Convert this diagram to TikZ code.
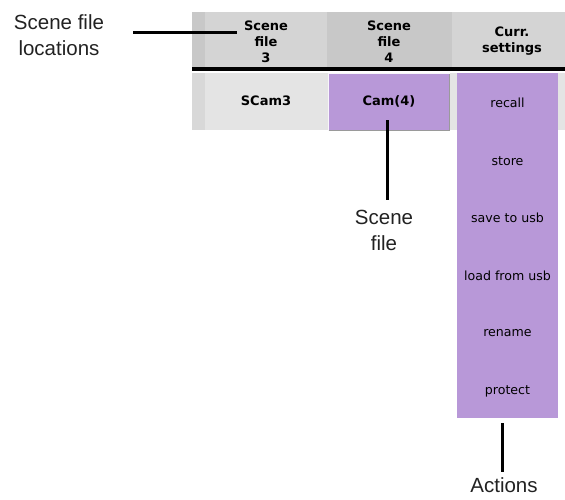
\documentclass[tikz,border=0pt]{standalone}
\usepackage{fontspec}
\setmainfont{Liberation Sans}
\newfontfamily\uifont{DejaVu Sans}
\definecolor{hdrA}{HTML}{D4D4D4}
\definecolor{hdrB}{HTML}{C8C8C8}
\definecolor{hdrStrip}{HTML}{C8C8C8}
\definecolor{rowBg}{HTML}{E4E4E4}
\definecolor{rowStrip}{HTML}{D8D8D8}
\definecolor{lilac}{HTML}{B898D8}
\definecolor{bevel}{HTML}{9A9A9A}
\definecolor{labeltext}{HTML}{222222}
\tikzset{
  hdrtext/.style={font=\uifont\bfseries\fontsize{13}{16}\selectfont, align=center, inner sep=0pt},
  celltext/.style={font=\uifont\bfseries\fontsize{13}{16}\selectfont, inner sep=0pt},
  itemtext/.style={font=\uifont\fontsize{12.6}{14}\selectfont, inner sep=0pt},
  calltext/.style={font=\fontsize{20.5}{26}\selectfont, align=center, inner sep=0pt, text=labeltext},
  callsingle/.style={font=\fontsize{20.5}{26}\selectfont, inner sep=0pt, text=labeltext},
  leader/.style={line width=3pt, black},
}
\begin{document}
\begin{tikzpicture}[x=1pt,y=-1pt]
\useasboundingbox (0,0) rectangle (565,499);
% header band
\fill[hdrStrip] (192,12) rectangle (205,67);
\fill[hdrA] (205,12) rectangle (327,67);
\fill[hdrB] (327,12) rectangle (452,67);
\fill[hdrA] (452,12) rectangle (565,67);
\fill[black] (192,67) rectangle (565,71);
% row 2
\fill[rowStrip] (192,73) rectangle (205,130);
\fill[rowBg] (205,73) rectangle (565,130);
% Cam(4) cell
\fill[lilac] (328,73) rectangle (450,131);
\draw[bevel, line width=1pt] (328.5,130.5) -- (449.5,130.5) -- (449.5,73.5);
\draw[white!90!lilac, line width=1pt] (328.5,130.5) -- (328.5,73.5) -- (449.5,73.5);
% actions column
\fill[lilac] (457,73) rectangle (558,418);
% header texts
\node[hdrtext] (h3) at (266,42) {Scene\\file\\3};
\node[hdrtext] (h4) at (389,42) {Scene\\file\\4};
\node[hdrtext] (hc) at (512,41) {Curr.\\settings};
% row texts
\node[celltext] (scam) at (266,101) {SCam3};
\node[celltext] (cam) at (389,101) {Cam(4)};
% action items
\node[itemtext] (a1) at (507.5,103) {recall};
\node[itemtext] (a2) at (507.5,161) {store};
\node[itemtext] (a3) at (507.5,218) {save to usb};
\node[itemtext] (a4) at (507.5,276) {load from usb};
\node[itemtext] (a5) at (507.5,333) {rename};
\node[itemtext] (a6) at (507.5,391) {protect};
% callout labels
\node[calltext] (lloc) at (59,35) {Scene file\\locations};
\node[calltext] (lfile) at (384,230) {Scene\\file};
\node[callsingle] (lact) at (504,485) {Actions};
% leader lines
\coordinate (locA) at (133,32);
\coordinate (locB) at (237,32);
\coordinate (fileA) at (387,120);
\coordinate (fileB) at (387,200);
\coordinate (actA) at (502,423);
\coordinate (actB) at (502,472);
\draw[leader] (locA) -- (locB);
\draw[leader] (fileA) -- (fileB);
\draw[leader] (actA) -- (actB);
\end{tikzpicture}
\end{document}
